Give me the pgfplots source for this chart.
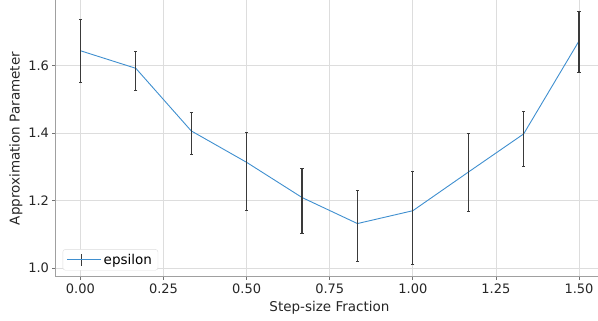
\documentclass[border=0pt]{standalone}
\usepackage{pgfplots}
\pgfplotsset{compat=1.18}
\usepackage{fontspec}
\setmainfont{DejaVu Sans}
\definecolor{lineblue}{HTML}{3F8FCF}
\definecolor{errgray}{HTML}{3A3A3A}
\definecolor{gridgray}{HTML}{DDDDDD}
\definecolor{spinegray}{HTML}{A0A0A0}
\begin{document}
\begin{tikzpicture}[x=1pt,y=1pt]
\begin{axis}[
  scale only axis,
  width=542.5pt, height=277pt,
  xmin=-0.075, xmax=1.557,
  ymin=0.974, ymax=1.793,
  xtick={0,0.25,0.5,0.75,1,1.25,1.5},
  ytick={1.0,1.2,1.4,1.6},
  xticklabel style={/pgf/number format/fixed,/pgf/number format/fixed zerofill,/pgf/number format/precision=2},
  yticklabel style={/pgf/number format/fixed,/pgf/number format/fixed zerofill,/pgf/number format/precision=1},
  /pgf/number format/assume math mode=true,
  tick label style={font=\fontsize{13}{15}\selectfont, text=black!85},
  label style={font=\fontsize{13.5}{16}\selectfont, text=black!85},
  axis x line*=bottom, axis y line*=left,
  axis line style={spinegray, line width=1pt, -},
  tick style={black!55, line width=0.8pt},
  major tick length=3pt,
  tick align=outside,
  grid=major,
  major grid style={gridgray, line width=0.8pt},
  xlabel={Step-size Fraction},
  ylabel={Approximation Parameter},
  xlabel style={at={(ticklabel cs:0.505)}, anchor=near ticklabel, yshift=-1pt},
  ylabel style={yshift=-1pt},
  legend style={at={(axis cs:-0.0535,0.9935)}, anchor=south west, draw=gridgray, rounded corners=2.5pt, fill=white, font=\fontsize{13.5}{16}\selectfont, inner xsep=4pt, inner ysep=2.5pt},
  legend cell align=left,
  legend image code/.code={
    \draw[lineblue, line width=0.9pt] (0pt,0pt) -- (28pt,0pt);
    \draw[errgray, line width=1.1pt] (14pt,-6pt) -- (14pt,6pt);
    \path (0pt,0pt) -- (34pt,0pt);
  },
]
\addplot[lineblue, line width=0.9pt, mark=none,
  error bars/.cd, y dir=both, y explicit,
  error bar style={errgray, line width=1.2pt},
  error mark options={errgray, rotate=90, mark size=1.6pt, line width=0.8pt}]
coordinates {
 (0.0000,1.643) +- (0,0.094)
 (0.1667,1.591) -= (0,0.065) += (0,0.051)
 (0.3333,1.406) += (0,0.055) -= (0,0.069)
 (0.5000,1.313) += (0,0.089) -= (0,0.143)
 (0.6667,1.209) += (0,0.086) -= (0,0.106)
 (0.8333,1.132) += (0,0.098) -= (0,0.111)
 (1.0000,1.170) += (0,0.117) -= (0,0.160)
 (1.1667,1.284) += (0,0.116) -= (0,0.117)
 (1.3333,1.397) += (0,0.068) -= (0,0.095)
 (1.5000,1.672) += (0,0.087) -= (0,0.092)
};
\addlegendentry{epsilon}
\end{axis}
\pgfresetboundingbox
\path (-55.5pt,-44pt) rectangle (542.5pt,277pt);
\end{tikzpicture}
\end{document}
